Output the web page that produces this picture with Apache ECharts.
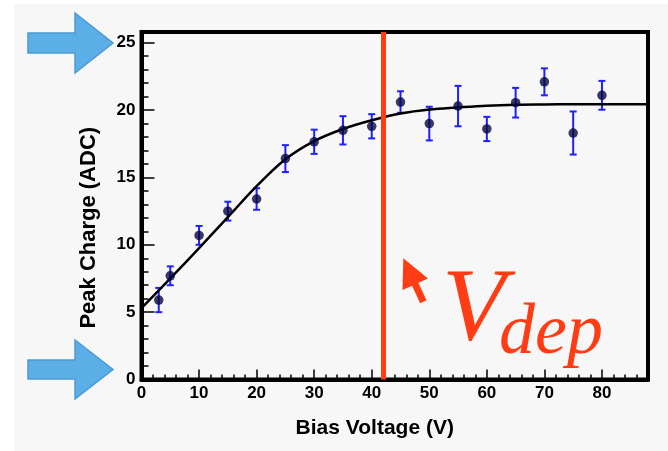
<!DOCTYPE html>
<html>
<head>
<meta charset="utf-8">
<script src="https://cdn.jsdelivr.net/npm/echarts@6/dist/echarts.min.js"></script>
<style>html,body{margin:0;padding:0;background:#fff;}#c{width:668px;height:451px;}</style>
</head>
<body>
<div id="c"></div>
<script>
// ---- data ----
const voltages = [3, 5, 10, 15, 20, 25, 30, 35, 40, 45, 50, 55, 60, 65, 70, 75, 80];
const charges  = [5.9, 7.7, 10.7, 12.5, 13.4, 16.4, 17.65, 18.5, 18.8, 20.6, 19.0, 20.3, 18.6, 20.55, 22.1, 18.3, 21.1];
const errors   = [0.9, 0.7, 0.7, 0.7, 0.8, 1.0, 0.9, 1.05, 0.9, 0.8, 1.25, 1.5, 0.9, 1.1, 1.0, 1.6, 1.07];
const fitX = [0, 5, 10, 15, 20, 25, 30, 35, 40, 45, 50, 55, 60, 65, 70, 75, 80, 88];
const fitY = [5.3, 7.5, 9.75, 12.05, 14.35, 16.35, 17.7, 18.6, 19.25, 19.75, 20.05, 20.2, 20.33, 20.4, 20.42, 20.43, 20.43, 20.43];
const depletionV = 42;
const xTitle = 'Bias Voltage (V)';
const yTitle = 'Peak Charge (ADC)';

const RED = '#ff3c14';
const BLUE_ERR = '#1f1fff';
const ARROW_FILL = '#5caee6';
const ARROW_STROKE = '#4a9bd4';
const FONT = 'Liberation Sans, Arial, sans-serif';

const chart = echarts.init(document.getElementById('c'), null, {renderer: 'canvas'});

const errData = voltages.map((v, i) => [v, charges[i] - errors[i], charges[i] + errors[i]]);
const ptData = voltages.map((v, i) => [v, charges[i]]);
const fitData = fitX.map((v, i) => [v, fitY[i]]);

chart.setOption({
  backgroundColor: '#f7f7f7',
  animation: false,
  grid: {
    left: 141.5, right: 20, top: 32, bottom: 71.5,
    show: true, borderColor: '#000', borderWidth: 4, backgroundColor: 'transparent'
  },
  xAxis: {
    type: 'value', min: 0, max: 88, interval: 10,
    name: xTitle, nameLocation: 'middle', nameGap: 38,
    nameTextStyle: {fontFamily: FONT, fontWeight: 'bold', fontSize: 21, color: '#000', padding: [0, 40, 0, 0]},
    axisLine: {show: true, onZero: false, lineStyle: {color: '#000', width: 4}},
    axisTick: {show: true, inside: true, length: 10, lineStyle: {color: '#000', width: 1.5}},
    minorTick: {show: true, splitNumber: 5, length: 5, lineStyle: {color: '#000', width: 1.5}},
    axisLabel: {fontFamily: FONT, fontWeight: 'bold', fontSize: 17, color: '#000', margin: 5, showMaxLabel: false},
    splitLine: {show: false}
  },
  yAxis: {
    type: 'value', min: 0, max: 25.8, interval: 5,
    name: yTitle, nameLocation: 'middle', nameGap: 42, nameRotate: 90,
    nameTextStyle: {fontFamily: FONT, fontWeight: 'bold', fontSize: 22, color: '#000', padding: [0, 44, 0, 0]},
    axisLine: {show: true, onZero: false, lineStyle: {color: '#000', width: 4}},
    axisTick: {show: true, inside: true, length: 13, lineStyle: {color: '#000', width: 1.5}},
    minorTick: {show: true, splitNumber: 5, length: 7, lineStyle: {color: '#000', width: 1.5}},
    axisLabel: {fontFamily: FONT, fontWeight: 'bold', fontSize: 17, color: '#000', margin: 6, showMaxLabel: false},
    splitLine: {show: false}
  },
  series: [
    {
      type: 'custom',
      name: 'errors',
      data: errData,
      z: 3,
      renderItem: function (params, api) {
        const x = api.value(0);
        const lo = api.coord([x, api.value(1)]);
        const hi = api.coord([x, api.value(2)]);
        const cw = 3.5;
        const st = {stroke: BLUE_ERR, lineWidth: 2};
        return {
          type: 'group',
          children: [
            {type: 'line', shape: {x1: lo[0], y1: lo[1], x2: hi[0], y2: hi[1]}, style: st},
            {type: 'line', shape: {x1: lo[0] - cw, y1: lo[1], x2: lo[0] + cw, y2: lo[1]}, style: st},
            {type: 'line', shape: {x1: hi[0] - cw, y1: hi[1], x2: hi[0] + cw, y2: hi[1]}, style: st}
          ]
        };
      }
    },
    {
      type: 'line',
      name: 'fit',
      data: fitData,
      smooth: 0.35,
      showSymbol: false,
      z: 4,
      lineStyle: {color: '#000', width: 2.5},
      markLine: {
        silent: true,
        symbol: ['none', 'none'],
        label: {show: false},
        lineStyle: {color: RED, width: 5, type: 'solid'},
        data: [{xAxis: depletionV}]
      }
    },
    {
      type: 'scatter',
      name: 'data',
      data: ptData,
      z: 5,
      symbol: 'circle',
      symbolSize: 9.5,
      itemStyle: {color: '#080840'}
    }
  ],
  graphic: [
    {type: 'rect', shape: {x: 0, y: 0, width: 668, height: 4}, style: {fill: '#fff'}, silent: true},
    {type: 'rect', shape: {x: 0, y: 0, width: 14, height: 451}, style: {fill: '#fff'}, silent: true},
    {
      type: 'polygon', silent: true,
      shape: {points: [[28, 33], [75, 33], [75, 13], [113, 43], [75, 73], [75, 53], [28, 53]]},
      style: {fill: ARROW_FILL, stroke: ARROW_STROKE, lineWidth: 1.5}
    },
    {
      type: 'polygon', silent: true,
      shape: {points: [[28, 360], [75, 360], [75, 340], [113, 369.5], [75, 399], [75, 379], [28, 379]]},
      style: {fill: ARROW_FILL, stroke: ARROW_STROKE, lineWidth: 1.5}
    },
    {
      type: 'polygon', silent: true,
      shape: {points: [[403.3, 258.3], [428, 278.4], [418.4, 282.8], [426.5, 300.2], [420.1, 303.2], [412.1, 285.7], [402.5, 290.1]]},
      style: {fill: RED}
    },
    {
      type: 'text', silent: true,
      x: 442, y: 364,
      style: {text: 'V', fill: RED, font: 'italic 104px "Liberation Serif", "DejaVu Serif", serif', verticalAlign: 'bottom', align: 'left'}
    },
    {
      type: 'text', silent: true,
      x: 499, y: 370,
      style: {text: 'dep', fill: RED, font: 'italic 72px "Liberation Serif", "DejaVu Serif", serif', verticalAlign: 'bottom', align: 'left'}
    }
  ]
});
</script>
</body>
</html>
